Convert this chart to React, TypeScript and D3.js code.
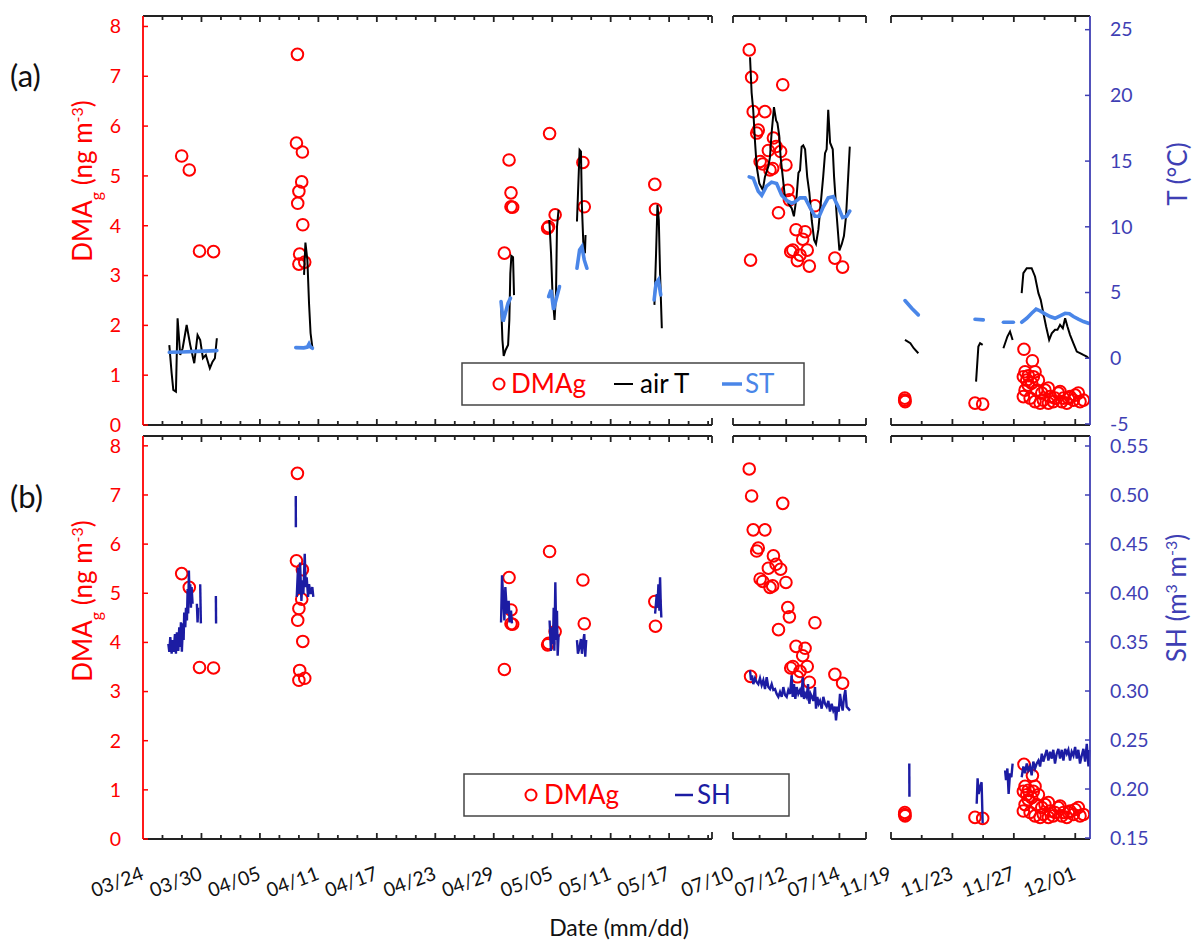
import * as d3 from 'd3';

// ---------- data: x = days since the start of each sampling window ----------
const windowStarts = ['2021-03-24', '2021-07-10', '2021-11-19'];
const windowLengths = [58.4, 5, 12.96];
const tickSteps = [2, 1, 2];
const labelSteps = [6, 2, 4];

const dmagTicks = d3.range(0, 9);
const tempTicks = [-5, 0, 5, 10, 15, 20, 25];
const shTicks = [0.15, 0.2, 0.25, 0.3, 0.35, 0.4, 0.45, 0.5, 0.55];

type Pt = [number, number];

const dmagSpring: Pt[] = [
  [3.97, 5.4], [4.75, 5.12], [5.8, 3.49], [7.24, 3.48],
  [15.85, 7.44], [15.75, 5.66], [16.36, 5.48], [16.29, 4.88], [16.0, 4.69], [15.88, 4.45],
  [16.4, 4.02], [16.08, 3.43], [16.0, 3.23], [16.6, 3.27],
  [37.57, 5.32], [37.77, 4.66], [37.77, 4.38], [37.94, 4.37], [37.09, 3.45],
  [41.73, 5.85], [41.63, 3.98], [41.53, 3.95], [42.3, 4.22],
  [45.15, 5.27], [45.29, 4.38],
  [52.53, 4.83], [52.6, 4.33],
];

const dmagSummer: Pt[] = [
  [0.61, 7.53], [0.7, 6.98], [0.76, 6.29], [1.2, 6.29], [1.87, 6.83], [0.95, 5.92], [0.89, 5.86],
  [1.52, 5.76], [1.62, 5.59], [1.33, 5.51], [1.79, 5.49], [1.02, 5.29], [1.12, 5.24], [1.49, 5.15],
  [1.39, 5.12], [1.99, 5.22], [2.06, 4.71], [2.12, 4.52], [1.71, 4.26], [3.08, 4.4], [2.37, 3.92],
  [2.71, 3.88], [2.62, 3.73], [2.25, 3.51], [2.17, 3.48], [2.79, 3.51], [2.52, 3.41], [2.42, 3.3],
  [2.87, 3.19], [0.66, 3.31], [3.83, 3.35], [4.12, 3.17],
];

const dmagAutumn: Pt[] = [
  [0.9, 0.54], [0.92, 0.47], [0.89, 0.5], [5.47, 0.44], [5.97, 0.42],
  [8.66, 1.52], [9.21, 1.29], [8.73, 1.07], [9.38, 1.07], [9.27, 0.97], [8.94, 0.99],
  [8.62, 0.97], [8.84, 0.9], [8.94, 0.8], [8.73, 0.7], [9.16, 0.84], [9.6, 0.9], [9.49, 0.7],
  [8.62, 0.57], [9.06, 0.54], [9.38, 0.47], [9.71, 0.44], [10.03, 0.7], [10.25, 0.74],
  [10.36, 0.57], [10.57, 0.47], [10.9, 0.64], [11.01, 0.67], [11.23, 0.54], [11.45, 0.44],
  [11.66, 0.57], [11.88, 0.5], [12.2, 0.64], [12.31, 0.47], [12.53, 0.5], [9.82, 0.64],
  [10.68, 0.54], [11.12, 0.47], [11.99, 0.6], [11.55, 0.54], [9.92, 0.5], [10.25, 0.44],
];

const airTSpring: Pt[][] = [
  [[2.7, 1.0], [2.94, -1.14], [3.11, -2.41], [3.38, -2.54], [3.55, 3.04], [3.82, 0.25], [4.07, 0.76],
   [4.48, 2.53], [4.85, 1.0], [5.26, -0.38], [5.6, 1.77], [5.87, 1.39], [6.15, 0.0], [6.45, 0.25],
   [6.86, -0.76], [7.14, -0.26], [7.38, 0.0], [7.58, 1.52]],
  [[16.53, 6.34], [16.67, 8.8], [16.87, 7.48], [17.04, 4.19], [17.2, 1.9], [17.39, 0.76]],
  [[36.75, 4.31], [36.89, 1.39], [37.02, 0.18], [37.22, 0.63], [37.47, 1.01], [37.6, 2.91],
   [37.7, 6.44], [37.81, 7.79], [37.98, 7.69], [38.08, 4.8]],
  [[41.7, 10.52], [41.88, 7.99], [42.04, 4.69], [42.24, 2.91], [42.39, 4.95], [42.49, 10.0], [42.65, 11.29]],
  [[44.54, 10.4], [44.81, 15.85], [44.95, 15.72], [45.05, 11.54], [45.22, 8.24], [45.36, 7.99], [45.42, 9.38]],
  [[52.49, 4.06], [52.66, 7.99], [52.8, 11.67], [52.94, 10.52], [53.07, 6.47], [53.25, 2.28]],
];

const stSpring: Pt[][] = [
  [[2.7, 0.45], [4.0, 0.48], [5.5, 0.52], [7.58, 0.58]],
  [[15.68, 0.81], [16.5, 0.79], [16.87, 0.85], [17.04, 1.09], [17.2, 0.85], [17.39, 0.76]],
  [[36.75, 4.31], [36.96, 2.79], [37.19, 3.42], [37.47, 4.19], [37.71, 4.57]],
  [[41.63, 4.69], [41.88, 5.2], [42.14, 3.68], [42.3, 4.19], [42.75, 5.45]],
  [[44.54, 6.85], [44.81, 8.24], [45.05, 8.49], [45.29, 7.48], [45.56, 6.85]],
  [[52.46, 4.44], [52.66, 5.71], [52.9, 5.96], [53.14, 4.82]],
];

const airTSummer: Pt[][] = [[
  [0.64, 22.9], [0.7, 20.2], [0.76, 18.9], [0.83, 16.4], [0.89, 14.6], [0.99, 13.3], [1.12, 12.8],
  [1.2, 13.8], [1.33, 14.6], [1.39, 15.3], [1.45, 17.1], [1.54, 19.1], [1.62, 18.1], [1.67, 17.9],
  [1.74, 16.9], [1.79, 15.3], [1.87, 13.8], [1.95, 12.3], [2.08, 11.8], [2.21, 11.4], [2.29, 10.8],
  [2.39, 12.3], [2.46, 14.1], [2.52, 14.3], [2.58, 16.1], [2.64, 16.2], [2.71, 15.9], [2.79, 13.8],
  [2.87, 12.6], [2.96, 10.5], [3.05, 9.0], [3.12, 8.7], [3.21, 9.8], [3.3, 11.8], [3.39, 13.8],
  [3.46, 15.6], [3.52, 15.9], [3.58, 18.9], [3.65, 16.4], [3.75, 15.9], [3.8, 13.8], [3.9, 10.8],
  [4.0, 8.2], [4.09, 8.7], [4.17, 9.3], [4.25, 10.8], [4.33, 13.8], [4.39, 16.1],
]];

const stSummer: Pt[][] = [[
  [0.61, 13.8], [0.76, 13.7], [0.95, 12.7], [1.08, 12.4], [1.26, 13.1], [1.45, 13.4], [1.64, 13.3],
  [1.83, 12.4], [2.02, 12.0], [2.21, 11.8], [2.33, 11.9], [2.52, 12.2], [2.71, 12.2], [2.89, 11.5],
  [3.08, 10.8], [3.24, 10.8], [3.39, 11.5], [3.58, 12.2], [3.77, 12.3], [3.96, 11.5], [4.12, 10.7],
  [4.27, 10.8], [4.39, 11.2],
]];

const airTAutumn: Pt[][] = [
  [[0.91, 1.39], [1.26, 1.14], [1.48, 0.76], [1.78, 0.38]],
  [[5.54, -1.78], [5.69, 0.89], [5.8, 1.14], [5.97, 1.01]],
  [[7.32, 0.76], [7.58, 1.65], [7.75, 2.03], [7.92, 1.39]],
  [[8.51, 4.95], [8.62, 6.47], [8.84, 6.85], [9.16, 6.85], [9.38, 6.22], [9.6, 4.95], [9.75, 4.44],
   [9.88, 3.68], [10.1, 2.41], [10.3, 1.39], [10.47, 1.9], [10.68, 2.16], [10.84, 2.16], [11.01, 2.54],
   [11.19, 2.28], [11.34, 3.04], [11.49, 2.41], [11.66, 1.78], [11.88, 1.14], [12.1, 0.51],
   [12.31, 0.38], [12.53, 0.25], [12.75, 0.13], [12.86, 0.0]],
];

const stAutumn: Pt[][] = [
  [[0.91, 4.39], [1.35, 3.8], [1.78, 3.3]],
  [[5.47, 2.97], [6.01, 2.92]],
  [[7.32, 2.74], [7.97, 2.74]],
  [[8.51, 2.74], [8.84, 3.04], [9.16, 3.42], [9.45, 3.73], [9.71, 3.6], [10.03, 3.38], [10.36, 3.17],
   [10.68, 3.04], [11.01, 3.22], [11.34, 3.42], [11.62, 3.38], [11.88, 3.17], [12.2, 2.97],
   [12.53, 2.79], [12.86, 2.66]],
];

const shSpring: Pt[][] = [
  [[2.6, 0.348], [2.7, 0.34], [2.8, 0.355], [2.94, 0.338], [3.04, 0.352], [3.14, 0.34], [3.28, 0.358],
   [3.38, 0.338], [3.48, 0.36], [3.62, 0.341], [3.72, 0.365], [3.82, 0.345], [3.89, 0.37], [3.99, 0.34],
   [4.1, 0.369], [4.17, 0.352], [4.23, 0.38], [4.34, 0.365], [4.41, 0.385], [4.51, 0.372], [4.58, 0.404],
   [4.64, 0.379], [4.71, 0.423], [4.78, 0.396], [4.85, 0.409], [4.92, 0.385], [4.99, 0.406], [5.09, 0.389]],
  [[5.53, 0.389], [5.6, 0.37], [5.67, 0.385]],
  [[5.87, 0.409], [5.94, 0.369]],
  [[7.48, 0.397], [7.5, 0.369]],
  [[15.68, 0.499], [15.69, 0.467]],
  [[15.78, 0.396], [15.91, 0.426], [16.02, 0.399], [16.12, 0.431], [16.26, 0.392], [16.36, 0.413],
   [16.46, 0.399], [16.6, 0.44], [16.7, 0.406], [16.8, 0.416], [16.94, 0.396], [17.04, 0.409],
   [17.21, 0.399], [17.38, 0.406], [17.48, 0.396]],
  [[36.75, 0.37], [36.85, 0.418], [36.96, 0.396], [37.09, 0.372], [37.19, 0.406], [37.36, 0.379],
   [37.53, 0.392], [37.63, 0.37], [37.77, 0.382], [37.87, 0.369]],
  [[41.73, 0.372], [41.87, 0.341], [41.97, 0.365], [42.08, 0.348], [42.15, 0.385], [42.22, 0.341],
   [42.32, 0.411], [42.42, 0.352], [42.49, 0.382], [42.56, 0.336], [42.66, 0.358]],
  [[44.54, 0.352], [44.64, 0.338], [44.81, 0.345], [44.95, 0.353], [45.05, 0.338], [45.15, 0.348],
   [45.29, 0.358], [45.39, 0.335], [45.49, 0.352]],
  [[52.56, 0.379], [52.73, 0.399], [52.8, 0.385], [52.9, 0.409], [53.0, 0.382], [53.07, 0.416],
   [53.14, 0.389], [53.2, 0.375]],
];

const shSummer: Pt[][] = [[
  [0.639, 0.321], [0.677, 0.311], [0.714, 0.316], [0.764, 0.307], [0.827, 0.313], [0.89, 0.309],
  [0.952, 0.307], [1.015, 0.313], [1.078, 0.306], [1.14, 0.311], [1.203, 0.302], [1.266, 0.314],
  [1.328, 0.304], [1.391, 0.302], [1.454, 0.307], [1.516, 0.301], [1.579, 0.302], [1.642, 0.297],
  [1.704, 0.294], [1.767, 0.299], [1.83, 0.294], [1.892, 0.304], [1.955, 0.296], [2.018, 0.294],
  [2.08, 0.301], [2.143, 0.297], [2.206, 0.316], [2.243, 0.294], [2.293, 0.307], [2.343, 0.292],
  [2.394, 0.304], [2.456, 0.297], [2.519, 0.301], [2.582, 0.294], [2.619, 0.314], [2.669, 0.292],
  [2.719, 0.297], [2.769, 0.294], [2.82, 0.307], [2.87, 0.287], [2.92, 0.297], [2.97, 0.294],
  [3.02, 0.29], [3.083, 0.304], [3.12, 0.282], [3.17, 0.294], [3.221, 0.287], [3.271, 0.29],
  [3.333, 0.282], [3.396, 0.294], [3.459, 0.287], [3.521, 0.284], [3.584, 0.29], [3.647, 0.279],
  [3.709, 0.287], [3.772, 0.28], [3.835, 0.284], [3.872, 0.27], [3.922, 0.284], [3.973, 0.279],
  [4.023, 0.297], [4.073, 0.287], [4.123, 0.28], [4.173, 0.294], [4.223, 0.301], [4.273, 0.284],
  [4.336, 0.282], [4.398, 0.28],
]];

const shAutumn: Pt[][] = [
  [[1.19, 0.226], [1.2, 0.192]],
  [[5.58, 0.185], [5.64, 0.211], [5.71, 0.195], [5.8, 0.202], [5.9, 0.207], [5.97, 0.165]],
  [[7.43, 0.219], [7.49, 0.209], [7.58, 0.221], [7.66, 0.195], [7.75, 0.216], [7.84, 0.212], [7.92, 0.226]],
  [[8.51, 0.212], [8.62, 0.223], [8.73, 0.216], [8.84, 0.226], [8.94, 0.219], [9.06, 0.223],
   [9.16, 0.214], [9.27, 0.228], [9.38, 0.221], [9.49, 0.226], [9.6, 0.229], [9.71, 0.223],
   [9.82, 0.236], [9.92, 0.228], [10.03, 0.234], [10.14, 0.24], [10.25, 0.229], [10.36, 0.238],
   [10.47, 0.231], [10.57, 0.24], [10.68, 0.226], [10.79, 0.236], [10.9, 0.241], [11.01, 0.231],
   [11.12, 0.24], [11.23, 0.229], [11.34, 0.241], [11.45, 0.236], [11.55, 0.24], [11.66, 0.229],
   [11.77, 0.238], [11.88, 0.234], [11.99, 0.243], [12.1, 0.231], [12.2, 0.24], [12.31, 0.226],
   [12.42, 0.234], [12.53, 0.241], [12.64, 0.228], [12.75, 0.246], [12.86, 0.223], [12.92, 0.24]],
];

// ---------- layout ----------
const W = 1196;
const H = 942;
const segX: [number, number][] = [[143, 712], [733, 866], [891, 1090]];
const panelA = { top: 16, bottom: 425 };
const panelB = { top: 436, bottom: 839 };
const FONT = 'Lato, "Open Sans", sans-serif';
const RED = '#ff0000';
const AXBLUE = '#3f3fb4';
const SHBLUE = '#1c1ca3';
const STBLUE = '#4a86e8';
const DAY = 864e5;

const parseDay = d3.timeParse('%Y-%m-%d');
const fmt = d3.timeFormat('%m/%d');

export default function App() {
  const segs = windowStarts.map((s, i) => {
    const start = parseDay(s) as Date;
    const end = new Date(+start + windowLengths[i] * DAY);
    const x = d3.scaleTime().domain([start, end]).range(segX[i]);
    const ticks = d3.range(0, windowLengths[i] + 1e-9, tickSteps[i]).map((k) => ({
      x: x(d3.timeDay.offset(start, k)),
      label: k % labelSteps[i] === 0 ? fmt(d3.timeDay.offset(start, k)) : null,
    }));
    return { start, x, ticks };
  });
  const at = (i: number, d: number) => segs[i].x(new Date(+segs[i].start + d * DAY));

  const yDmagA = d3.scaleLinear().domain([0, 8.21]).range([panelA.bottom, panelA.top]);
  const yT = d3.scaleLinear().domain([-5.08, 26.04]).range([panelA.bottom, panelA.top]);
  const yDmagB = d3.scaleLinear().domain([0, 8.2]).range([panelB.bottom, panelB.top]);
  const ySH = d3.scaleLinear().domain([0.149, 0.5602]).range([panelB.bottom, panelB.top]);

  const dmag = [dmagSpring, dmagSummer, dmagAutumn];
  const airT = [airTSpring, airTSummer, airTAutumn];
  const st = [stSpring, stSummer, stAutumn];
  const sh = [shSpring, shSummer, shAutumn];

  const lineFor = (i: number, y: d3.ScaleLinear<number, number>) =>
    d3.line<Pt>().x((p) => at(i, p[0])).y((p) => y(p[1]));

  const frame = (p: { top: number; bottom: number }, withLabels: boolean) => (
    <g>
      {segs.map((s, i) => {
        const [x0, x1] = segX[i];
        return (
          <g key={i} stroke="#222" strokeWidth={1.8} fill="none">
            <line x1={x0} x2={x1} y1={p.top} y2={p.top} />
            <line x1={x0} x2={x1} y1={p.bottom} y2={p.bottom} />
            {i > 0 && <line x1={x0} x2={x0} y1={p.top} y2={p.top + 7} />}
            {i > 0 && <line x1={x0} x2={x0} y1={p.bottom} y2={p.bottom - 7} />}
            {i < 2 && <line x1={x1} x2={x1} y1={p.top} y2={p.top + 7} />}
            {i < 2 && <line x1={x1} x2={x1} y1={p.bottom} y2={p.bottom - 7} />}
            {s.ticks.map((t, k) => {
              if (Math.abs(t.x - x0) < 1 || Math.abs(t.x - x1) < 1) return null;
              const len = t.label ? 6 : 4;
              return (
                <g key={k}>
                  <line x1={t.x} x2={t.x} y1={p.top} y2={p.top + len} />
                  <line x1={t.x} x2={t.x} y1={p.bottom} y2={p.bottom - len} />
                </g>
              );
            })}
            {withLabels &&
              s.ticks
                .filter((t) => t.label)
                .map((t, k) => (
                  <text
                    key={`l${k}`}
                    transform={`translate(${t.x + 2},${p.bottom + 40}) rotate(-20)`}
                    textAnchor="end"
                    fontSize={19.5}
                    fill="#111"
                    stroke="none"
                    fontFamily={FONT}
                  >
                    {t.label}
                  </text>
                ))}
          </g>
        );
      })}
    </g>
  );

  const leftAxis = (y: d3.ScaleLinear<number, number>, p: { top: number; bottom: number }) => (
    <g fontFamily={FONT} fontSize={19.5} fill={RED}>
      <line x1={segX[0][0]} x2={segX[0][0]} y1={p.top} y2={p.bottom} stroke={RED} strokeWidth={1.8} />
      {dmagTicks.map((v) => (
        <g key={v}>
          <line x1={segX[0][0]} x2={segX[0][0] + 5} y1={y(v)} y2={y(v)} stroke={RED} strokeWidth={1.5} />
          <text x={121} y={y(v)} dy="0.35em" textAnchor="end">{v}</text>
        </g>
      ))}
    </g>
  );

  const rightAxis = (
    y: d3.ScaleLinear<number, number>,
    ticks: number[],
    p: { top: number; bottom: number },
    f: (v: number) => string,
  ) => (
    <g fontFamily={FONT} fontSize={19.5} fill={AXBLUE}>
      <line x1={segX[2][1]} x2={segX[2][1]} y1={p.top} y2={p.bottom} stroke={AXBLUE} strokeWidth={1.8} />
      {ticks.map((v) => (
        <g key={v}>
          <line x1={segX[2][1] - 5} x2={segX[2][1]} y1={y(v)} y2={y(v)} stroke={AXBLUE} strokeWidth={1.5} />
          <text x={1110} y={y(v)} dy="0.35em">{f(v)}</text>
        </g>
      ))}
    </g>
  );

  const circles = (y: d3.ScaleLinear<number, number>) =>
    dmag.map((pts, i) =>
      pts.map((p, k) => (
        <circle key={`${i}-${k}`} cx={at(i, p[0])} cy={y(p[1])} r={5.8} fill="none" stroke={RED} strokeWidth={2} />
      )),
    );

  const dmagTitle = (cy: number) => (
    <text transform={`translate(92,${cy}) rotate(-90)`} textAnchor="middle" fontFamily={FONT} fontSize={26} fill={RED}>
      DMA<tspan baselineShift="sub" fontSize={16}>g</tspan>
      <tspan> (ng m</tspan>
      <tspan baselineShift="super" fontSize={16}>-3</tspan>
      <tspan>)</tspan>
    </text>
  );

  return (
    <div style={{ position: 'absolute', left: 0, top: 0 }}>
      <svg width={W} height={H} style={{ display: 'block', background: '#fff' }}>
        {/* panel (a) */}
        {frame(panelA, false)}
        <g>{circles(yDmagA)}</g>
        {airT.map((pieces, i) =>
          pieces.map((pc, k) => (
            <path key={`t${i}-${k}`} d={lineFor(i, yT)(pc) ?? ''} fill="none" stroke="#000" strokeWidth={2} />
          )),
        )}
        {st.map((pieces, i) =>
          pieces.map((pc, k) => (
            <path key={`s${i}-${k}`} d={lineFor(i, yT)(pc) ?? ''} fill="none" stroke={STBLUE} strokeWidth={3.6} strokeLinecap="round" />
          )),
        )}
        {leftAxis(yDmagA, panelA)}
        {rightAxis(yT, tempTicks, panelA, (v) => String(v))}

        <g fontFamily={FONT}>
          <rect x={462} y={363} width={342} height={42} fill="#fff" stroke="#444" strokeWidth={1.5} />
          <circle cx={499} cy={384} r={5.5} fill="none" stroke={RED} strokeWidth={2} />
          <text x={511} y={393} fontSize={26} fill={RED}>DMAg</text>
          <line x1={614} x2={633} y1={384} y2={384} stroke="#000" strokeWidth={2} />
          <text x={640} y={393} fontSize={26} fill="#000">air T</text>
          <line x1={722} x2={742} y1={384} y2={384} stroke={STBLUE} strokeWidth={3.5} />
          <text x={745} y={393} fontSize={26} fill={STBLUE}>ST</text>
        </g>

        {/* panel (b) */}
        {frame(panelB, true)}
        <g>{circles(yDmagB)}</g>
        {sh.map((pieces, i) =>
          pieces.map((pc, k) => (
            <path key={`h${i}-${k}`} d={lineFor(i, ySH)(pc) ?? ''} fill="none" stroke={SHBLUE} strokeWidth={2.4} />
          )),
        )}
        {leftAxis(yDmagB, panelB)}
        {rightAxis(ySH, shTicks, panelB, d3.format('.2f'))}

        <g fontFamily={FONT}>
          <rect x={464} y={774} width={325} height={42} fill="#fff" stroke="#444" strokeWidth={1.5} />
          <circle cx={531} cy={795} r={5.5} fill="none" stroke={RED} strokeWidth={2} />
          <text x={544} y={804} fontSize={26} fill={RED}>DMAg</text>
          <line x1={675} x2={693} y1={795} y2={795} stroke={SHBLUE} strokeWidth={2.5} />
          <text x={697} y={804} fontSize={26} fill={SHBLUE}>SH</text>
        </g>

        {/* titles */}
        <text x={10} y={87} fontFamily={FONT} fontSize={31} fill="#111">(a)</text>
        <text x={10} y={508} fontFamily={FONT} fontSize={31} fill="#111">(b)</text>
        {dmagTitle(181)}
        {dmagTitle(601)}
        <text transform="translate(1187,174) rotate(-90)" textAnchor="middle" fontFamily={FONT} fontSize={26} fill={AXBLUE}>
          T (°C)
        </text>
        <text transform="translate(1186,598) rotate(-90)" textAnchor="middle" fontFamily={FONT} fontSize={26} fill={AXBLUE}>
          SH (m<tspan baselineShift="super" fontSize={16}>3</tspan>
          <tspan> m</tspan>
          <tspan baselineShift="super" fontSize={16}>-3</tspan>
          <tspan>)</tspan>
        </text>
        <text x={619} y={936} textAnchor="middle" fontFamily={FONT} fontSize={23} fill="#111">
          Date (mm/dd)
        </text>
      </svg>
    </div>
  );
}
